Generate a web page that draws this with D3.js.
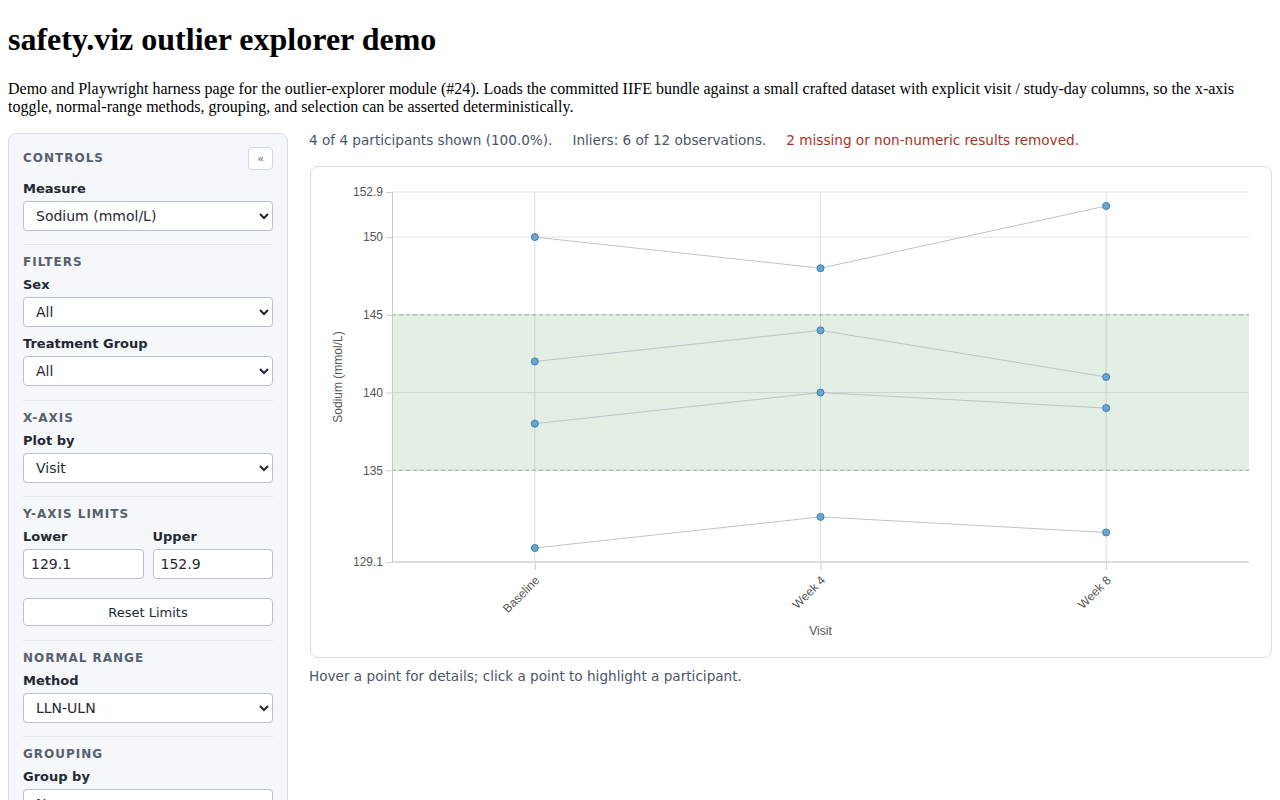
<!DOCTYPE html>
<html>
<head>
<meta charset="utf-8">
<title>safety.viz outlier explorer demo</title>
<script src="https://cdn.jsdelivr.net/npm/d3@7"></script>
<style>
  body { margin: 8px; font-family: "Liberation Serif", "Times New Roman", serif; color: #000; }
  h1 { font-size: 32px; margin: 13.44px 0 21.44px; }
  p.intro { font-size: 16px; margin: 16px 0; line-height: 18.4px; }
  .layout { display: flex; align-items: flex-start; }
  .sidebar {
    width: 250px; padding: 15px 14px 14px; background: #f5f7fa;
    border: 1px solid #d9dfe6; border-radius: 8px;
    font-family: "DejaVu Sans", sans-serif; height: 700px; box-sizing: content-box;
  }
  .sb-head { display: flex; justify-content: space-between; align-items: center; height: 22px; margin-top: -1px; }
  .sidebar h3 { margin: 0 0 7px; font-size: 12px; line-height: 15px; letter-spacing: 1px; color: #56606e; font-weight: bold; }
  .sb-head h3 { margin: 0; }
  .collapse { width: 25px; height: 23px; border: 1px solid #d3d9e0; border-radius: 4px; background: #fff;
    font-size: 11px; color: #666; display: flex; align-items: center; justify-content: center; box-sizing: border-box; }
  .sidebar label { display: block; font-size: 13px; line-height: 16px; font-weight: bold; color: #1f2933; margin: 0 0 4px; }
  .sidebar label.next { margin-top: 9px; }
  .sidebar select { display: block; width: 100%; height: 30px; font-family: "DejaVu Sans", sans-serif; font-size: 14px;
    border: 1px solid #b8c1cc; border-radius: 4px; background: #fff; padding: 0 8px; color: #1f2933; }
  .sidebar label.first { margin-top: 11px; }
  .section { border-top: 1px solid #e1e6ec; padding-top: 10px; margin-top: 13.5px; }
  .limits { display: flex; gap: 9px; }
  .limits div { flex: 1; }
  .limits input { width: 100%; box-sizing: border-box; height: 30px; border: 1px solid #b8c1cc; border-radius: 4px;
    font-family: "DejaVu Sans", sans-serif; font-size: 14px; padding: 0 7px; color: #1f2933; }
  .reset { display: block; width: 100%; height: 28px; margin-top: 19px; border: 1px solid #b8c1cc; border-radius: 4px;
    background: #fff; font-family: "DejaVu Sans", sans-serif; font-size: 13px; color: #1f2933; }
  .main { margin-left: 21px; flex: 1; }
  .status { font-family: "DejaVu Sans", sans-serif; font-size: 13.6px; line-height: 16px; color: #4a5568; margin-top: -1px; }
  .status span { margin-right: 20px; }
  .status .warn { color: #a8321e; }
  .card { margin-top: 18px; margin-left: 1px; width: 960px; height: 490px; border: 1px solid #dadde2; border-radius: 8px; }
  .hint { font-family: "DejaVu Sans", sans-serif; font-size: 13.6px; line-height: 16px; color: #4a5568; margin-top: 10px; }
</style>
</head>
<body>
<h1>safety.viz outlier explorer demo</h1>
<p class="intro">Demo and Playwright harness page for the outlier-explorer module (#24). Loads the committed IIFE bundle against a small crafted dataset with explicit visit / study-day columns, so the x-axis toggle, normal-range methods, grouping, and selection can be asserted deterministically.</p>
<div class="layout">
  <div class="sidebar">
    <div class="sb-head"><h3>CONTROLS</h3><div class="collapse">«</div></div>
    <label class="first">Measure</label>
    <select><option>Sodium (mmol/L)</option></select>
    <div class="section">
      <h3>FILTERS</h3>
      <label>Sex</label>
      <select><option>All</option></select>
      <label class="next">Treatment Group</label>
      <select><option>All</option></select>
    </div>
    <div class="section">
      <h3>X-AXIS</h3>
      <label>Plot by</label>
      <select><option>Visit</option></select>
    </div>
    <div class="section">
      <h3>Y-AXIS LIMITS</h3>
      <div class="limits">
        <div><label>Lower</label><input id="lower" value=""></div>
        <div><label>Upper</label><input id="upper" value=""></div>
      </div>
      <button class="reset">Reset Limits</button>
    </div>
    <div class="section">
      <h3>NORMAL RANGE</h3>
      <label>Method</label>
      <select><option>LLN-ULN</option></select>
    </div>
    <div class="section">
      <h3>GROUPING</h3>
      <label>Group by</label>
      <select><option>None</option></select>
    </div>
  </div>
  <div class="main">
    <div class="status" id="status"></div>
    <div class="card"><svg id="chart" width="960" height="490"></svg></div>
    <div class="hint">Hover a point for details; click a point to highlight a participant.</div>
  </div>
</div>
<script>
// visits on the x axis
const visits = ["Baseline", "Week 4", "Week 8"];

// sodium results per participant, one value per visit
const participantIds = ["01-001", "01-002", "01-003", "01-004"];
const sodium001 = [150, 148, 152];
const sodium002 = [142, 144, 141];
const sodium003 = [138, 140, 139];
const sodium004 = [130, 132, 131];

const yLimits = [129.1, 152.9];
const yTicks = [129.1, 135, 140, 145, 150, 152.9];
const normalRange = [135, 145]; // LLN, ULN
const missingCount = 2;

const series = [sodium001, sodium002, sodium003, sodium004].map((vals, i) => ({
  id: participantIds[i],
  points: vals.map((v, j) => ({ visit: visits[j], value: v }))
}));

document.getElementById("lower").value = yLimits[0];
document.getElementById("upper").value = yLimits[1];

const allObs = series.flatMap(s => s.points);
const inliers = allObs.filter(d => d.value >= normalRange[0] && d.value <= normalRange[1]).length;
const status = d3.select("#status");
status.append("span").text(`${series.length} of ${series.length} participants shown (100.0%).`);
status.append("span").text(`Inliers: ${inliers} of ${allObs.length} observations.`);
status.append("span").attr("class", "warn").text(`${missingCount} missing or non-numeric results removed.`);

const svg = d3.select("#chart");
const margin = { top: 25, right: 22, bottom: 95, left: 81 };
const width = 960 - margin.left - margin.right;
const height = 490 - margin.top - margin.bottom;

const g = svg.append("g").attr("transform", `translate(${margin.left},${margin.top})`);

const x = d3.scalePoint().domain(visits).range([0, width]).padding(0.5);
const y = d3.scaleLinear().domain(yLimits).range([height, 0]);

// grid
g.append("g").selectAll("line").data(yTicks).join("line")
  .attr("x1", 0).attr("x2", width)
  .attr("y1", d => y(d)).attr("y2", d => y(d))
  .attr("stroke", "#e3e3e3");
g.append("g").selectAll("line").data(visits).join("line")
  .attr("x1", d => x(d)).attr("x2", d => x(d))
  .attr("y1", 0).attr("y2", height)
  .attr("stroke", "#e0e0e0");

// normal range band
g.append("rect")
  .attr("x", 0).attr("width", width)
  .attr("y", y(normalRange[1])).attr("height", y(normalRange[0]) - y(normalRange[1]))
  .attr("fill", "rgba(70,140,80,0.15)");
g.append("g").selectAll("line").data(normalRange).join("line")
  .attr("x1", 0).attr("x2", width)
  .attr("y1", d => y(d)).attr("y2", d => y(d))
  .attr("stroke", "#93b897").attr("stroke-dasharray", "4,3");

// axes
const yAxis = g.append("g")
  .call(d3.axisLeft(y).tickValues(yTicks).tickSize(6).tickFormat(d => d));
const xAxis = g.append("g").attr("transform", `translate(0,${height})`)
  .call(d3.axisBottom(x).tickSize(8));
[yAxis, xAxis].forEach(a => {
  a.select(".domain").attr("stroke", "#c8c8c8");
  a.selectAll(".tick line").attr("stroke", "#d0d0d0");
  a.selectAll("text").attr("fill", "#555").style("font-family", "'Liberation Sans', Arial, sans-serif").style("font-size", "12px");
});
xAxis.select(".domain").attr("d", `M0,0H${width}`);
xAxis.selectAll(".tick text")
  .attr("text-anchor", "end")
  .attr("x", 0).attr("y", 0).attr("dy", "0.35em")
  .attr("transform", "translate(2,16) rotate(-45)");

g.append("text")
  .attr("x", width / 2).attr("y", height + 73)
  .attr("text-anchor", "middle")
  .attr("fill", "#555")
  .style("font-family", "'Liberation Sans', Arial, sans-serif").style("font-size", "12px")
  .text("Visit");
g.append("text")
  .attr("transform", "rotate(-90)")
  .attr("x", -height / 2).attr("y", -50)
  .attr("text-anchor", "middle")
  .attr("fill", "#555")
  .style("font-family", "'Liberation Sans', Arial, sans-serif").style("font-size", "12px")
  .text("Sodium (mmol/L)");

// participant lines
const line = d3.line().x(d => x(d.visit)).y(d => y(d.value));
g.append("g").selectAll("path").data(series).join("path")
  .attr("d", d => line(d.points))
  .attr("fill", "none")
  .attr("stroke", "#bfc3c8")
  .attr("stroke-width", 1);

// points
g.append("g").selectAll("circle").data(allObs).join("circle")
  .attr("cx", d => x(d.visit))
  .attr("cy", d => y(d.value))
  .attr("r", 3.5)
  .attr("fill", "#6aa5d1")
  .attr("stroke", "#3d7db3")
  .attr("stroke-width", 1);
</script>
</body>
</html>
